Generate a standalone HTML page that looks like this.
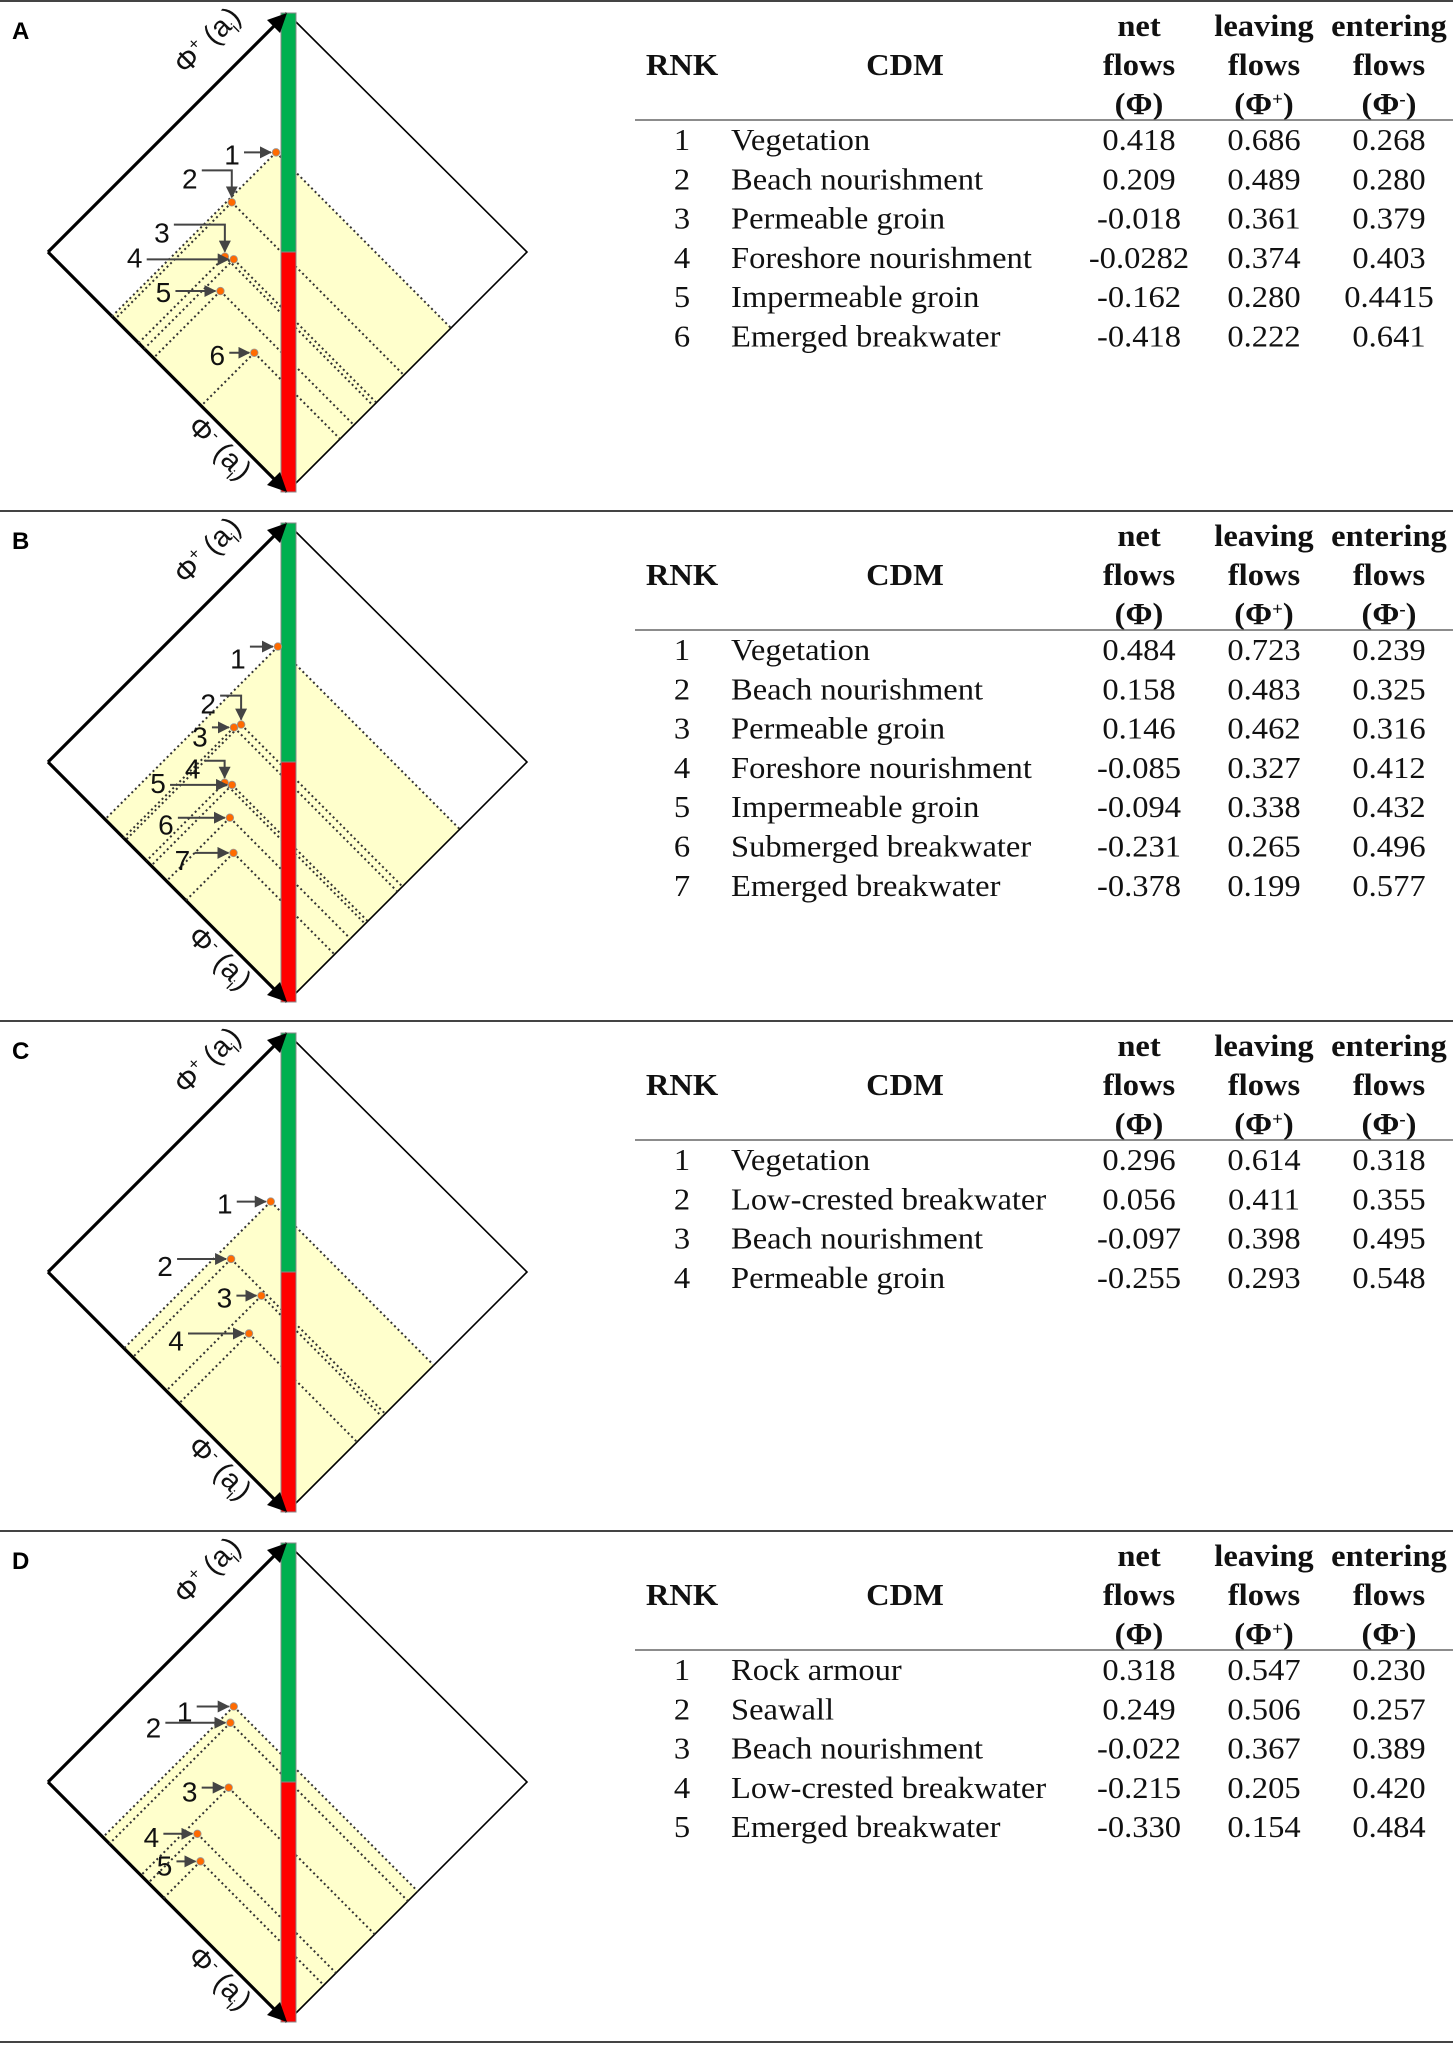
<!DOCTYPE html>
<html><head><meta charset="utf-8"><style>
html,body{margin:0;padding:0;background:#fff;}
svg{display:block;}
</style></head><body>
<svg id="fig" width="1453" height="2045" viewBox="0 0 1453 2045" xmlns="http://www.w3.org/2000/svg"></svg>
<script>
// ---- data ----
const panelLetters = ["A","B","C","D"];
const namesA = ["Vegetation","Beach nourishment","Permeable groin","Foreshore nourishment","Impermeable groin","Emerged breakwater"];
const netA = ["0.418","0.209","-0.018","-0.0282","-0.162","-0.418"];
const leavA = [0.686,0.489,0.361,0.374,0.280,0.222];
const entA = [0.268,0.280,0.379,0.403,0.4415,0.641];
const entALabels = ["0.268","0.280","0.379","0.403","0.4415","0.641"];
const namesB = ["Vegetation","Beach nourishment","Permeable groin","Foreshore nourishment","Impermeable groin","Submerged breakwater","Emerged breakwater"];
const netB = ["0.484","0.158","0.146","-0.085","-0.094","-0.231","-0.378"];
const leavB = [0.723,0.483,0.462,0.327,0.338,0.265,0.199];
const entB = [0.239,0.325,0.316,0.412,0.432,0.496,0.577];
const namesC = ["Vegetation","Low-crested breakwater","Beach nourishment","Permeable groin"];
const netC = ["0.296","0.056","-0.097","-0.255"];
const leavC = [0.614,0.411,0.398,0.293];
const entC = [0.318,0.355,0.495,0.548];
const namesD = ["Rock armour","Seawall","Beach nourishment","Low-crested breakwater","Emerged breakwater"];
const netD = ["0.318","0.249","-0.022","-0.215","-0.330"];
const leavD = [0.547,0.506,0.367,0.205,0.154];
const entD = [0.230,0.257,0.389,0.420,0.484];
// label layout offsets (relative to point): [dx, dy, bent]
const labA = [[-44,2,0],[-42,-24,1],[-63,-24,1],[-99,-2,0],[-57,1,0],[-37,2,0]];
const labB = [[-40,12,0],[-33,-21,1],[-34,9,0],[-32,-14,1],[-74,-2,0],[-64,7,0],[-51,7,0]];
const labC = [[-46,2,0],[-66,7,0],[-37,2,0],[-73,7,0]];
const labD = [[-49,5,0],[-77,5,0],[-39,4,0],[-46,3,0],[-36,4,0]];

const panels = [
 {names:namesA,net:netA,leav:leavA,ent:entA,lab:labA},
 {names:namesB,net:netB,leav:leavB,ent:entB,lab:labB},
 {names:namesC,net:netC,leav:leavC,ent:entC,lab:labC},
 {names:namesD,net:netD,leav:leavD,ent:entD,lab:labD}
];
const panelTop = [1,511,1021,1531];

const NS="http://www.w3.org/2000/svg";
const svg=document.getElementById('fig');
function mk(tag,attrs,parent){const e=document.createElementNS(NS,tag);for(const k in attrs)e.setAttribute(k,attrs[k]);(parent||svg).appendChild(e);return e;}
function fmt(v){return v.toFixed(3);}

const defs=mk('defs',{});
const m=mk('marker',{id:'ah',markerWidth:'12',markerHeight:'12',refX:'11',refY:'6',orient:'auto',markerUnits:'userSpaceOnUse'},defs);
mk('path',{d:'M0,0 L12,6 L0,12 Z',fill:'#444'},m);

[1,511,1021,1531,2042].forEach((y)=>{
  const l=mk('line',{x1:0,x2:1453,y1:y,y2:y,stroke:'#444','stroke-width':2});
  
  
});

panels.forEach((P,pi)=>{
  const y0=panelTop[pi];
  const g=mk('g',{transform:`translate(0,${y0})`});
  
  
  const L={x:48,y:251}, T={x:287,y:12}, B={x:287,y:491}, R={x:527,y:251};
  const px=(p,m)=>L.x+p*(T.x-L.x)+m*(B.x-L.x);
  const py=(p,m)=>L.y+p*(T.y-L.y)+m*(B.y-L.y);
  const lt=mk('text',{x:12,y:38,'font-family':'Liberation Sans, sans-serif','font-weight':'bold','font-size':'24'},g);
  lt.textContent=panelLetters[pi];
  
  
  const maxP=Math.max(...P.leav), minM=Math.min(...P.ent);
  const yel=mk('polygon',{points:[[px(maxP,minM),py(maxP,minM)],[px(0,minM),py(0,minM)],[B.x,B.y],[px(maxP,1),py(maxP,1)]].map(a=>a.join(',')).join(' '),fill:'#ffffcc'},g);
  
  
  const re=mk('polyline',{points:`${T.x},${T.y} ${R.x},${R.y} ${B.x},${B.y}`,fill:'none',stroke:'#000','stroke-width':1.6},g);
  
  
  const ax1=mk('line',{x1:L.x,y1:L.y,x2:T.x,y2:T.y,stroke:'#000','stroke-width':3.2},g);
  
  
  const ax2=mk('line',{x1:L.x,y1:L.y,x2:B.x,y2:B.y,stroke:'#000','stroke-width':3.2},g);
  
  
  P.leav.forEach((p,i)=>{
    const m_=P.ent[i], x=px(p,m_), y=py(p,m_);
    const d1=mk('line',{x1:x,y1:y,x2:px(0,m_),y2:py(0,m_),stroke:'#333','stroke-width':2,'stroke-dasharray':'2,3'},g);
    
    
    const d2=mk('line',{x1:x,y1:y,x2:px(p,1),y2:py(p,1),stroke:'#333','stroke-width':2,'stroke-dasharray':'2,3'},g);
    
    
  });
  const gb=mk('rect',{x:281,y:T.y,width:15,height:(L.y-T.y),fill:'#00b050',stroke:'#888','stroke-width':1},g);
  
  
  const rb=mk('rect',{x:281,y:L.y,width:15,height:(B.y-L.y),fill:'#ff0000',stroke:'#888','stroke-width':1},g);
  
  
  const ah1=mk('polygon',{points:`${T.x},${T.y} ${T.x-20},${T.y+7} ${T.x-7},${T.y+20}`,fill:'#000'},g);
  
  
  const ah2=mk('polygon',{points:`${B.x},${B.y} ${B.x-20},${B.y-7} ${B.x-7},${B.y-20}`,fill:'#000'},g);
  
  
  const t1=mk('text',{x:0,y:0,transform:'translate(214,46) rotate(-45)','text-anchor':'middle','font-family':'Liberation Sans, sans-serif','font-size':'29','fill':'#111'},g);
  t1.innerHTML='Φ<tspan dy="-11" font-size="17">+</tspan><tspan dy="11"> (a</tspan><tspan dy="7" font-size="16">i</tspan><tspan dy="-7">)</tspan>';
  
  
  const t2=mk('text',{x:0,y:0,transform:'translate(213,454) rotate(45)','text-anchor':'middle','font-family':'Liberation Sans, sans-serif','font-size':'29','fill':'#111'},g);
  t2.innerHTML='Φ<tspan dy="-11" font-size="17">-</tspan><tspan dy="11"> (a</tspan><tspan dy="7" font-size="16">i</tspan><tspan dy="-7">)</tspan>';
  
  
  P.leav.forEach((p,i)=>{
    const m_=P.ent[i], x=px(p,m_), y=py(p,m_);
    const [dx,dy,bent]=P.lab[i];
    const tx=x+dx, ty=y+dy;
    let d;
    if(bent){ d=`M${tx+12},${ty-8} L${x},${ty-8} L${x},${y-5}`; }
    else { d=`M${tx+12},${y} L${x-5},${y}`; }
    const ar=mk('path',{d:d,fill:'none',stroke:'#444','stroke-width':2,'marker-end':'url(#ah)'},g);
    
    
    const lb=mk('text',{x:tx,y:ty+10,'text-anchor':'middle','font-family':'Liberation Sans, sans-serif','font-size':'28','fill':'#111'},g);
    lb.textContent=String(i+1);
    
    
    const pt=mk('circle',{cx:x,cy:y,r:3.8,fill:'#ff6a00',stroke:'#999','stroke-width':0.8},g);
    
    
  });
  // table
  const SX=1.05;
  function tt(txt,x,y,anchor,bold,name){
    const t=mk('text',{x:0,y:0,transform:`translate(${x},${y}) scale(${SX},1)`,'text-anchor':anchor,'font-family':'Liberation Serif, serif','font-size':'31','font-weight':bold?'bold':'normal','fill':'#111'},g);
    t.textContent=txt;
    
    
    return t;
  }
  const cR=682,cC=905,cN=1139,cL=1264,cE=1389,xName=731;
  tt('RNK',cR,74,'middle',1,'header-rnk');
  tt('CDM',cC,74,'middle',1,'header-cdm');
  tt('net',cN,35,'middle',1,'header-net');
  tt('flows',cN,74,'middle',1,'header-net');
  tt('(Φ)',cN,113,'middle',1,'header-net');
  tt('leaving',cL,35,'middle',1,'header-leaving');
  tt('flows',cL,74,'middle',1,'header-leaving');
  const h1=tt('',cL,113,'middle',1,'header-leaving'); h1.innerHTML='(Φ<tspan dy="-9" font-size="18">+</tspan><tspan dy="9">)</tspan>';
  tt('entering',cE,35,'middle',1,'header-entering');
  tt('flows',cE,74,'middle',1,'header-entering');
  const h2=tt('',cE,113,'middle',1,'header-entering'); h2.innerHTML='(Φ<tspan dy="-9" font-size="18">-</tspan><tspan dy="9">)</tspan>';
  const hl=mk('line',{x1:635,x2:1453,y1:119,y2:119,stroke:'#666','stroke-width':1.5},g);
  
  
  P.names.forEach((n,i)=>{
    const y=149+39.3*i;
    tt(String(i+1),cR,y,'middle',0,'rank-cell');
    tt(n,xName,y,'start',0,'cdm-cell');
    tt(P.net[i],cN,y,'middle',0,'net-flow-cell');
    tt(fmt(P.leav[i]),cL,y,'middle',0,'leaving-flow-cell');
    tt(pi===0?entALabels[i]:fmt(P.ent[i]),cE,y,'middle',0,'entering-flow-cell');
  });
});
</script>
</body></html>
